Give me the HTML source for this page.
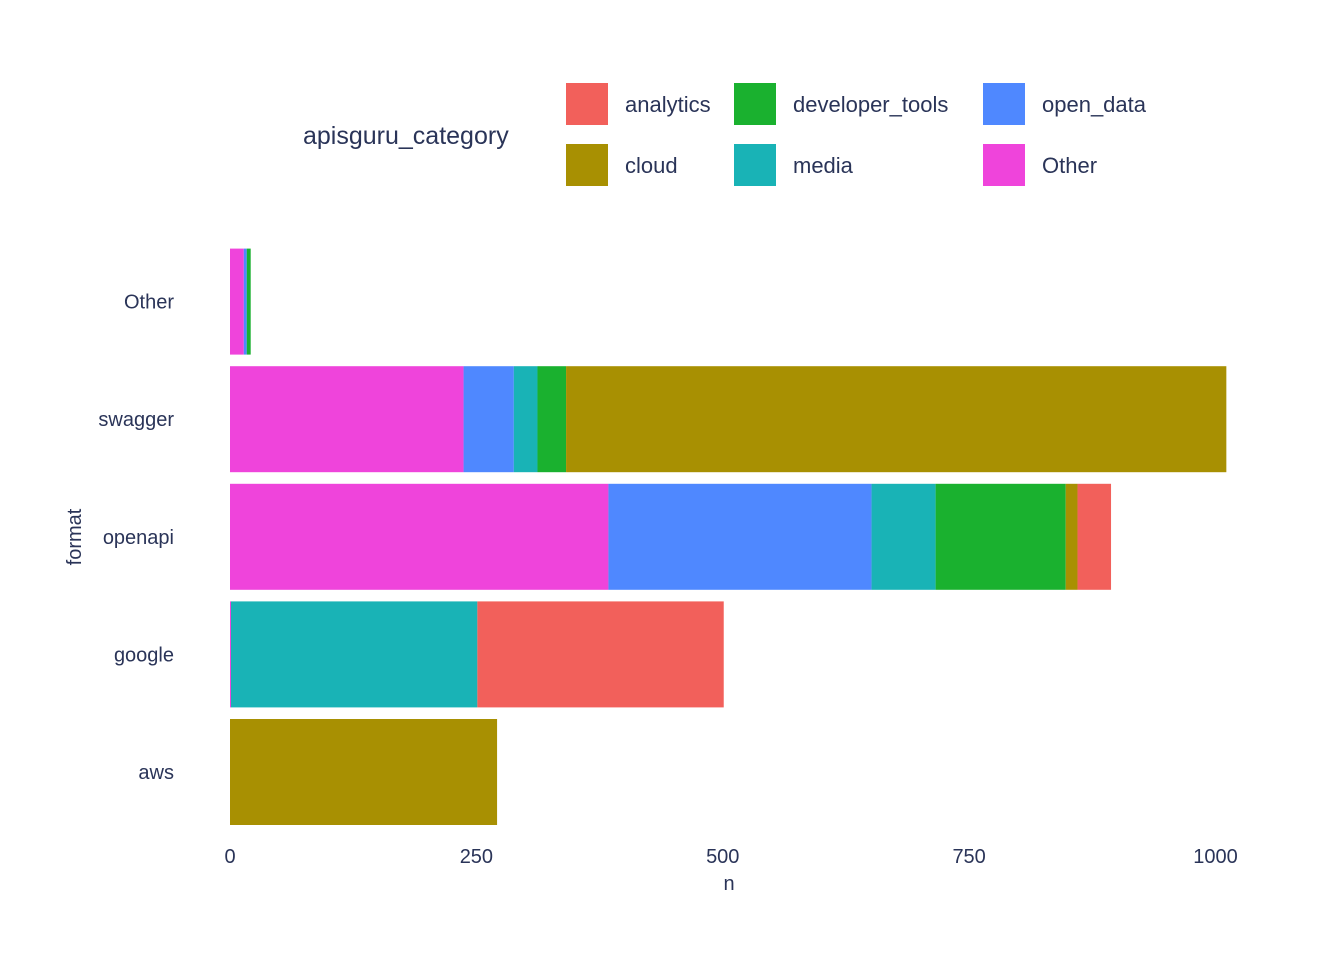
<!DOCTYPE html>
<html><head><meta charset="utf-8"><style>
body{margin:0;background:#fff;}
svg text{font-family:"Liberation Sans",sans-serif;fill:#2a3458;}
</style></head><body>
<svg width="1344" height="960">
<g id="bars"></g>
<g id="axes"></g>
<g id="legend">
<text x="303" y="144" font-size="25">apisguru_category</text>
</g>
</svg>
<script>
const formats=["aws","google","openapi","swagger","Other"];
const categories=["Other","open_data","media","developer_tools","cloud","analytics"];
const colors={analytics:"#F2605B",developer_tools:"#1AB12F",open_data:"#4F88FF",cloud:"#A89002",media:"#19B3B6",Other:"#EF44DB"};
const sOther=[0,1,384,237,14];
const sOpenData=[0,0,267,51,3];
const sMedia=[0,250,65,24,0];
const sDev=[0,0,132,29,4];
const sCloud=[271,0,12,670,0];
const sAnalytics=[0,250,34,0,0];
const series={Other:sOther,open_data:sOpenData,media:sMedia,developer_tools:sDev,cloud:sCloud,analytics:sAnalytics};
const xTicks=[0,250,500,750,1000];
const NS="http://www.w3.org/2000/svg";
const x=v=>230+v*0.9855;
const bandTop=i=>719-i*117.6;
const bh=106;
const bars=document.getElementById('bars'),axes=document.getElementById('axes'),leg=document.getElementById('legend');
formats.forEach((f,i)=>{
  let acc=0;
  categories.forEach(c=>{
    const v=series[c][i];if(!v)return;
    const r=document.createElementNS(NS,'rect');
    r.setAttribute('x',x(acc));r.setAttribute('width',x(acc+v)-x(acc));
    r.setAttribute('y',bandTop(i));r.setAttribute('height',bh);r.setAttribute('fill',colors[c]);
    
    
    bars.appendChild(r);acc+=v;
  });
  const t=document.createElementNS(NS,'text');
  t.setAttribute('x',174);t.setAttribute('y',bandTop(i)+bh/2+7);t.setAttribute('text-anchor','end');t.setAttribute('font-size','20');
  t.textContent=f;
  
  
  axes.appendChild(t);
});
xTicks.forEach(v=>{
  const t=document.createElementNS(NS,'text');
  t.setAttribute('x',x(v));t.setAttribute('y',863);t.setAttribute('text-anchor','middle');t.setAttribute('font-size','20');
  t.textContent=v;
  
  
  axes.appendChild(t);
});
const xt=document.createElementNS(NS,'text');
xt.setAttribute('x',729);xt.setAttribute('y',890);xt.setAttribute('text-anchor','middle');xt.setAttribute('font-size','20');xt.textContent='n';


axes.appendChild(xt);
const yt=document.createElementNS(NS,'text');
yt.setAttribute('transform','translate(81,537) rotate(-90)');yt.setAttribute('text-anchor','middle');yt.setAttribute('font-size','20');yt.textContent='format';


axes.appendChild(yt);
const legItems=[["analytics",566,83],["cloud",566,144],["developer_tools",734,83],["media",734,144],["open_data",983,83],["Other",983,144]];
legItems.forEach(([c,lx,ly])=>{
  const r=document.createElementNS(NS,'rect');
  r.setAttribute('x',lx);r.setAttribute('y',ly);r.setAttribute('width',42);r.setAttribute('height',42);r.setAttribute('fill',colors[c]);
  
  
  leg.appendChild(r);
  const t=document.createElementNS(NS,'text');
  t.setAttribute('x',lx+59);t.setAttribute('y',ly+29);t.setAttribute('font-size','22');t.textContent=c;
  
  
  leg.appendChild(t);
});
</script>
</body></html>
